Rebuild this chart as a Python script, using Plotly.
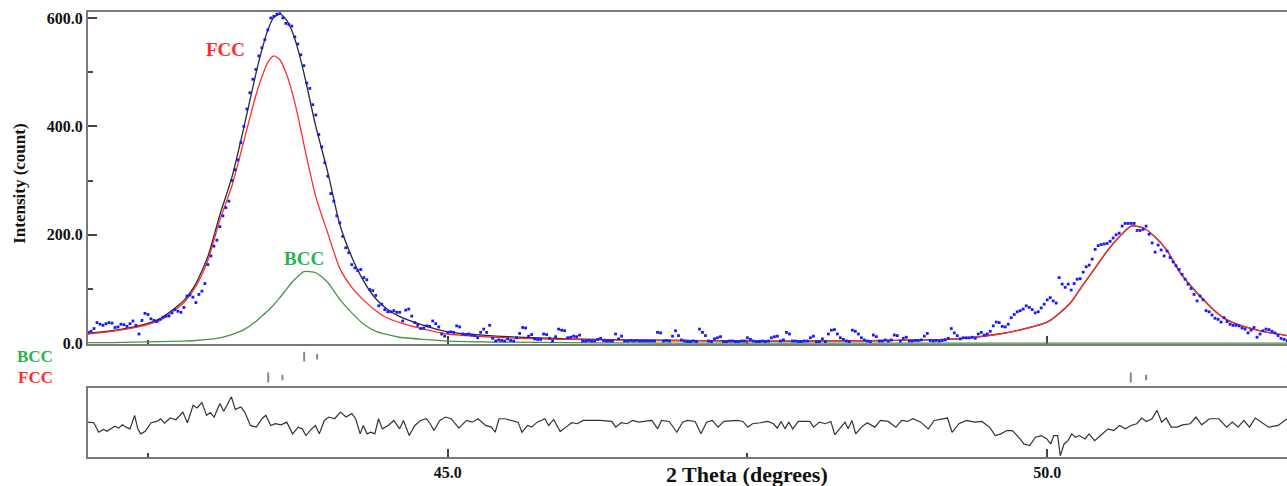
import plotly.graph_objects as go

# ---------------- data ----------------
THETA_START = 42.0
THETA_STEP = 0.025

obs_counts = [
    20, 22, 27, 38, 35, 33, 36, 38, 37, 29, 30, 35, 34, 31, 36, 41, 33, 17, 42, 55,
    53, 45, 42, 40, 44, 48, 50, 50, 56, 62, 59, 57, 66, 87, 89, 85, 75, 90, 96, 110,
    145, 161, 179, 190, 215, 235, 250, 262, 300, 320, 338, 370, 400, 432, 462, 487, 505, 530, 545, 560,
    578, 600, 603, 607, 608, 600, 590, 588, 585, 565, 552, 532, 512, 480, 470, 440, 421, 385, 362, 333,
    308, 276, 262, 235, 222, 197, 176, 167, 145, 139, 134, 136, 121, 117, 99, 97, 88, 69, 72, 62,
    58, 58, 60, 57, 57, 41, 61, 63, 50, 38, 33, 27, 28, 32, 31, 41, 36, 30, 17, 13,
    20, 21, 20, 32, 30, 17, 16, 17, 15, 14, 10, 20, 26, 20, 33, 9, 4, 6, 5, 4,
    8, 5, 4, 10, 18, 29, 28, 13, 16, 8, 7, 7, 17, 16, 9, 4, 12, 26, 24, 23,
    10, 11, 13, 12, 15, 4, 4, 5, 4, 4, 7, 9, 5, 4, 4, 4, 17, 8, 13, 4,
    4, 5, 4, 5, 4, 4, 4, 4, 4, 4, 20, 19, 4, 5, 4, 13, 23, 14, 6, 4,
    3, 3, 4, 3, 26, 20, 14, 4, 3, 8, 10, 12, 3, 3, 4, 4, 3, 3, 4, 4,
    10, 7, 4, 3, 3, 4, 3, 4, 10, 12, 13, 4, 6, 20, 17, 4, 4, 3, 3, 4,
    4, 10, 13, 3, 3, 8, 3, 17, 24, 25, 17, 10, 7, 4, 3, 24, 22, 17, 10, 6,
    4, 3, 15, 12, 4, 4, 6, 4, 6, 15, 14, 4, 9, 11, 4, 4, 5, 5, 6, 13,
    18, 5, 4, 5, 4, 5, 6, 9, 27, 19, 14, 8, 10, 10, 10, 11, 9, 17, 20, 15,
    17, 22, 32, 39, 38, 31, 30, 35, 47, 53, 58, 60, 63, 69, 66, 62, 56, 58, 65, 72,
    80, 84, 78, 74, 121, 109, 103, 109, 98, 110, 118, 119, 131, 141, 144, 155, 173, 180, 182, 183,
    184, 188, 194, 200, 203, 216, 221, 221, 221, 221, 208, 208, 210, 216, 201, 185, 168, 181, 172, 161,
    170, 158, 150, 143, 136, 127, 118, 109, 101, 90, 78, 87, 80, 60, 58, 52, 46, 44, 39, 47,
    40, 35, 33, 33, 32, 28, 26, 19, 24, 29, 11, 17, 23, 26, 25, 22, 19, 14, 9, 7, 5,
]
obs_theta = [round(THETA_START + THETA_STEP * i, 3) for i in range(len(obs_counts))]

calc_theta = [42.0, 42.2, 42.4, 42.6, 42.8, 42.9, 43.0, 43.1, 43.2, 43.3,
              43.4, 43.45, 43.5, 43.55, 43.6, 43.65, 43.7, 43.75, 43.8, 43.9,
              44.0, 44.1, 44.2, 44.3, 44.4, 44.5, 44.6, 44.8, 45.0, 45.5,
              46.0, 46.5, 47.0, 47.5, 48.0, 48.5, 49.0, 49.3, 49.6, 49.8,
              50.0, 50.1, 50.2, 50.3, 50.4, 50.5, 50.6, 50.7, 50.8, 50.9,
              51.0, 51.1, 51.2, 51.3, 51.4, 51.5, 51.6, 51.8, 52.0]
calc_total = [18, 23, 31, 45, 79, 110, 160, 237, 306, 398,
              497, 541, 578, 601, 607, 598, 577, 543, 499, 400,
              315, 219, 159, 114, 82, 62, 49, 33, 21, 12,
              8, 6, 5, 4, 4, 4.5, 6, 9, 17, 26,
              39, 55, 76, 108, 139, 170, 196, 216, 213, 196,
              171, 133, 105, 81, 59, 43, 34, 22, 14]
calc_fcc = [17, 22, 29, 42, 75, 105, 153, 227, 290, 373,
            457, 491, 518, 530, 523, 500, 465, 420, 367, 270,
            203, 138, 103, 79, 60, 46, 38, 26, 17, 10,
            7, 5.5, 4.5, 4, 4, 4.5, 6, 9, 17, 26,
            39, 55, 76, 108, 139, 170, 196, 216, 213, 196,
            171, 133, 105, 81, 59, 43, 34, 22, 14]
calc_bcc = [1, 1, 2, 3, 4, 5, 7, 10, 16, 25,
            40, 50, 60, 71, 84, 98, 112, 123, 132, 130,
            112, 81, 56, 35, 22, 16, 11, 7, 4, 2,
            1, 0.5, 0, 0, 0, 0, 0, 0, 0, 0,
            0, 0, 0, 0, 0, 0, 0, 0, 0, 0,
            0, 0, 0, 0, 0, 0, 0, 0, 0]

resid_theta = [
    42.000, 42.048, 42.089, 42.128, 42.159, 42.191, 42.223, 42.255, 42.287, 42.319,
    42.351, 42.389, 42.415, 42.440, 42.478, 42.526, 42.574, 42.606, 42.638, 42.686,
    42.733, 42.791, 42.829, 42.877, 42.909, 42.950, 42.989, 43.020, 43.052, 43.100,
    43.132, 43.196, 43.228, 43.276, 43.307, 43.355, 43.403, 43.451, 43.483, 43.524,
    43.563, 43.610, 43.658, 43.706, 43.754, 43.786, 43.818, 43.865, 43.897, 43.929,
    43.971, 44.009, 44.057, 44.105, 44.152, 44.200, 44.232, 44.270, 44.296, 44.328,
    44.360, 44.392, 44.423, 44.455, 44.503, 44.551, 44.599, 44.631, 44.679, 44.726,
    44.774, 44.822, 44.854, 44.886, 44.934, 44.982, 45.029, 45.093, 45.157, 45.205,
    45.253, 45.316, 45.364, 45.396, 45.428, 45.476, 45.540, 45.587, 45.619, 45.667,
    45.699, 45.747, 45.811, 45.842, 45.884, 45.938, 45.986, 46.034, 46.082, 46.129,
    46.273, 46.369, 46.401, 46.448, 46.496, 46.544, 46.592, 46.640, 46.703, 46.751,
    46.783, 46.847, 46.911, 46.959,
    47.000, 47.064, 47.112, 47.159, 47.207, 47.255, 47.303, 47.415, 47.462, 47.504,
    47.542, 47.606, 47.670, 47.717, 47.749, 47.781, 47.813, 47.845, 47.877, 47.925,
    48.020, 48.052, 48.100, 48.148, 48.196, 48.228, 48.276, 48.314, 48.339, 48.371,
    48.403, 48.451, 48.499, 48.562, 48.610, 48.674, 48.738, 48.786, 48.834, 48.881,
    48.945, 49.009, 49.057, 49.121, 49.168, 49.207, 49.264, 49.328, 49.392, 49.455,
    49.519, 49.567, 49.615, 49.663, 49.710, 49.774, 49.806, 49.854, 49.902, 49.950,
    49.997, 50.029, 50.055, 50.087, 50.109, 50.141, 50.173, 50.205, 50.237, 50.268,
    50.316, 50.348, 50.396, 50.444, 50.508, 50.555, 50.603, 50.651, 50.699, 50.747,
    50.788, 50.827, 50.874, 50.916, 50.954, 50.992, 51.034, 51.082, 51.129, 51.193,
    51.241, 51.289, 51.353, 51.432, 51.496, 51.544, 51.592, 51.640, 51.687, 51.735,
    51.783, 51.847, 51.927, 52.000,
]
resid_vals = [
    0.5, -0.1, -9.6, -6.9, -8.6, -6.2, -3.5, -5.5, -2.2, -4.5,
    -6.2, 7.3, -6.2, -11.2, -8.6, -0.1, 1.2, 3.9, -0.5, 4.6,
    2.9, 10.6, -0.1, 17.4, 14.7, 20.1, 7.3, 10.0, 5.6, 19.1,
    11.3, 25.8, 13.3, 15.7, 10.6, -2.8, -4.5, 3.9, 7.3, -2.8,
    -1.1, -2.2, 0.5, -11.2, -4.5, -6.2, -12.9, -6.2, -2.8, -11.2,
    2.2, 5.6, 3.9, 10.6, 5.6, 9.0, 3.9, -11.2, -2.8, -11.2,
    -9.6, -11.2, 3.9, -6.2, -2.8, 2.2, -6.2, 2.2, -12.9, -2.8,
    2.2, 3.9, -1.1, -7.9, 2.2, 5.6, 3.9, -5.5, 2.2, 0.5,
    3.9, -2.8, -4.5, -9.6, 3.9, 3.9, 2.2, 0.5, -9.6, -2.8,
    -4.5, 0.5, 3.9, -2.8, 3.2, -8.9, -4.5, -0.1, -1.1, 2.2,
    2.2, 1.2, -4.5, -0.1, -1.1, 2.2, 0.5, 1.5, 2.2, -6.2,
    2.2, 1.2, -9.6, 0.5,
    2.2, 1.2, -11.2, 0.5, 2.2, -4.5, 1.2, 2.2, 1.2, -4.5,
    -1.1, -0.1, 1.2, -1.1, -5.5, 1.2, -6.2, 0.5, -6.2, 1.2,
    1.2, -4.5, 0.5, -1.1, 1.2, -12.3, -4.5, 0.5, -6.2, 2.2,
    -11.2, -4.5, -0.1, -4.5, 2.2, 1.2, -4.5, 2.2, 1.2, 3.9,
    0.5, -6.2, 2.2, 3.9, 4.6, -9.6, -1.1, 2.2, 0.5, 1.2,
    -4.5, -12.9, -11.2, -7.9, -7.9, -16.3, -21.3, -23.0, -14.6, -12.9,
    -16.3, -21.3, -12.9, -12.9, -33.1, -21.3, -18.0, -11.2, -14.6, -12.9,
    -16.3, -11.2, -18.0, -12.9, -6.2, -7.9, -2.8, -6.2, -2.8, -1.1,
    4.6, 1.2, 3.9, 12.3, 0.5, 4.6, -4.5, -4.5, -2.2, -1.1,
    5.6, -2.2, 3.9, 3.9, -4.5, 0.5, -4.5, 2.2, -4.5, 4.6,
    0.5, -4.5, -2.8, 3.9,
]

fcc_reflections = [43.503, 43.622, 50.697, 50.825]
bcc_reflections = [43.803, 43.911]

x_major_ticks = [45.0, 50.0]
x_major_labels = ["45.0", "50.0"]
x_minor_ticks = [42.5, 47.5]
y_major_ticks = [0, 200, 400, 600]
y_major_labels = ["0.0", "200.0", "400.0", "600.0"]
y_minor_ticks = [100, 300, 500]

# ---------------- styling ----------------
FONT = "Liberation Serif"
RED = "rgb(255,45,45)"
GREEN_LINE = "rgb(70,150,70)"
GREEN_TXT = "rgb(40,180,80)"
AX = "#7a7a7a"
TICK = "#444444"

BCC_ROW = 0.713
FCC_ROW = 0.244

fig = go.Figure()

fig.add_trace(go.Scatter(x=calc_theta, y=calc_total, mode="lines",
                         line=dict(color="#2a2a2a", width=1.3, shape="spline", smoothing=0.6),
                         xaxis="x", yaxis="y", hoverinfo="skip"))
fig.add_trace(go.Scatter(x=calc_theta, y=calc_bcc, mode="lines",
                         line=dict(color=GREEN_LINE, width=1.3, shape="spline", smoothing=0.6),
                         xaxis="x", yaxis="y", hoverinfo="skip"))
fig.add_trace(go.Scatter(x=calc_theta, y=calc_fcc, mode="lines",
                         line=dict(color=RED, width=1.3, shape="spline", smoothing=0.6),
                         xaxis="x", yaxis="y", hoverinfo="skip"))
fig.add_trace(go.Scatter(x=obs_theta, y=obs_counts, mode="markers",
                         marker=dict(symbol="square", size=2.8, color="rgb(25,25,255)", line=dict(width=0)),
                         xaxis="x", yaxis="y"))

fig.add_trace(go.Scatter(x=resid_theta, y=resid_vals, mode="lines",
                         line=dict(color="#333333", width=1.2),
                         xaxis="x2", yaxis="y2"))

fig.add_trace(go.Scatter(x=bcc_reflections, y=[BCC_ROW] * len(bcc_reflections), mode="markers",
                         marker=dict(symbol="line-ns-open", size=[7, 4], color="#555555",
                                     line=dict(width=2, color="#555555")),
                         xaxis="x3", yaxis="y3"))
fig.add_trace(go.Scatter(x=fcc_reflections, y=[FCC_ROW] * len(fcc_reflections), mode="markers",
                         marker=dict(symbol="line-ns-open", size=[7, 4, 7, 4], color="#555555",
                                     line=dict(width=2, color="#555555")),
                         xaxis="x3", yaxis="y3"))

MAIN_DOM = [0.2539, 1.0]
REFL_DOM = [0.1544, 0.2539]
RES_DOM = [0.0, 0.1544]

common_x = dict(range=[42, 52], showgrid=False, zeroline=False, showline=True,
                linecolor=AX, linewidth=2, mirror=True, ticks="inside",
                tickvals=x_major_ticks, ticklen=8, tickwidth=1.5, tickcolor=TICK,
                minor=dict(tickvals=x_minor_ticks, ticks="inside", ticklen=4,
                           tickwidth=1.5, tickcolor=TICK),
                layer="below traces")

fig.update_layout(
    width=1287, height=486,
    margin=dict(l=88, r=0, t=12, b=29),
    paper_bgcolor="white", plot_bgcolor="white",
    showlegend=False,
    font=dict(family=FONT, color="#111111"),
    xaxis=dict(domain=[0, 1], anchor="y", showticklabels=False, **common_x),
    xaxis2=dict(domain=[0, 1], anchor="y2", showticklabels=True,
                ticktext=["<b>%s</b>" % t for t in x_major_labels],
                tickfont=dict(family=FONT, size=16, color="#111111"), **common_x),
    xaxis3=dict(domain=[0, 1], anchor="y3", range=[42, 52], visible=False),
    yaxis=dict(domain=MAIN_DOM, anchor="x", range=[-1.5, 611], showgrid=False, zeroline=False,
               showline=True, linecolor=AX, linewidth=2, ticks="inside",
               tickvals=y_major_ticks, ticktext=["<b>%s</b>" % t for t in y_major_labels],
               ticklen=9, tickwidth=1.5, tickcolor=TICK,
               tickfont=dict(family=FONT, size=16, color="#111111"),
               minor=dict(tickvals=y_minor_ticks, ticks="inside", ticklen=5,
                          tickwidth=1.5, tickcolor=TICK),
               layer="below traces"),
    yaxis2=dict(domain=RES_DOM, anchor="x2", range=[-34.35, 34.35], showgrid=False,
                zeroline=False, showline=True, linecolor=AX, linewidth=2,
                showticklabels=False, ticks=""),
    yaxis3=dict(domain=REFL_DOM, anchor="x3", range=[0, 1], visible=False),
)

annotations = [
    dict(text="<b>FCC</b>", x=43.15, y=541, xref="x", yref="y", showarrow=False,
         xanchor="center", yanchor="middle",
         font=dict(family=FONT, size=19, color=RED)),
    dict(text="<b>BCC</b>", x=43.804, y=157, xref="x", yref="y", showarrow=False,
         xanchor="center", yanchor="middle",
         font=dict(family=FONT, size=19, color=GREEN_TXT)),
    dict(text="<b>BCC</b>", x=-0.0442, y=BCC_ROW, xref="paper", yref="y3", showarrow=False,
         xanchor="center", yanchor="middle",
         font=dict(family=FONT, size=17, color=GREEN_TXT)),
    dict(text="<b>FCC</b>", x=-0.0442, y=FCC_ROW, xref="paper", yref="y3", showarrow=False,
         xanchor="center", yanchor="middle",
         font=dict(family=FONT, size=17, color=RED)),
    dict(text="<b>Intensity (count)</b>", x=-0.0567, y=294, xref="paper", yref="y",
         textangle=-90, showarrow=False, xanchor="center", yanchor="middle",
         font=dict(family=FONT, size=17, color="#111111")),
    dict(text="<b>2 Theta (degrees)</b>", x=47.5, y=-0.0404, xref="x2", yref="paper",
         xanchor="center", yanchor="middle", showarrow=False,
         font=dict(family=FONT, size=22, color="#111111")),
]
fig.update_layout(annotations=annotations)

# remove the default page margin so the figure fills the 1287x486 window exactly
fig.write_html("out.html", config={"displayModeBar": False},
               post_script="document.body.style.margin='0px';document.body.style.overflow='hidden';")
